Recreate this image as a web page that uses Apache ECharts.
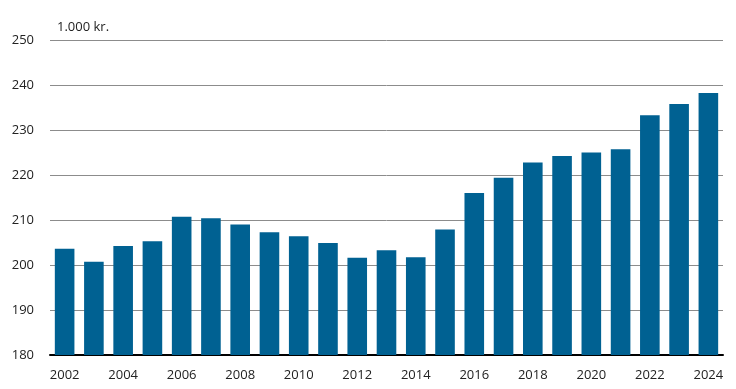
<!DOCTYPE html>
<html><head><meta charset="utf-8">
<script src="https://cdn.jsdelivr.net/npm/echarts@6/dist/echarts.min.js"></script>
<style>html,body{margin:0;padding:0;background:#fff}#c{width:736px;height:389px}</style>
</head><body><div id="c"></div>
<script>
const years = ["2002","2003","2004","2005","2006","2007","2008","2009","2010","2011","2012","2013","2014","2015","2016","2017","2018","2019","2020","2021","2022","2023","2024"];
const values = [203.6,200.7,204.2,205.3,210.7,210.4,209.0,207.3,206.4,204.9,201.6,203.3,201.7,207.9,216.0,219.4,222.8,224.2,225.0,225.7,233.3,235.8,238.2];
const unitLabel = "1.000 kr.";
const chart = echarts.init(document.getElementById('c'), null, {renderer:'canvas'});
chart.setOption({
  animation:false,
  textStyle:{fontFamily:'"Open Sans", "DejaVu Sans", sans-serif'},
  grid:{left:50,right:13,top:40,bottom:34,containLabel:false},
  graphic:[{type:'text',left:57,top:21,style:{text:unitLabel,fontSize:13,fill:'#222',fontFamily:'"Open Sans", sans-serif'}}],
  xAxis:{type:'category',data:years,
    axisLine:{lineStyle:{color:'#000',width:2}},
    axisTick:{show:false},
    axisLabel:{interval:1,color:'#222',fontSize:13,margin:14}},
  yAxis:{type:'value',min:180,max:250,interval:10,
    axisLine:{show:false},axisTick:{show:false},
    axisLabel:{color:'#222',fontSize:13,margin:16},
    splitLine:{lineStyle:{color:'#8c8c8c',width:1}}},
  series:[{type:'bar',data:values,barCategoryGap:'33%',
    itemStyle:{color:'#006192'}}]
});
</script></body></html>
